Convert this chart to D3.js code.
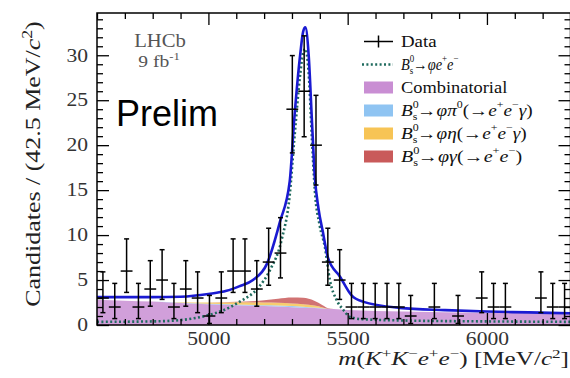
<!DOCTYPE html>
<html>
<head>
<meta charset="utf-8">
<script src="https://cdn.jsdelivr.net/npm/d3@7"></script>
<style>
  body { margin: 0; background: #fff; }
  svg { display: block; font-family: "Liberation Serif", "Times New Roman", serif; }
</style>
</head>
<body>
<div id="chart"></div>
<script>
// binning of the mass histogram
const massMin = 4600, massMax = 6300, binWidth = 42.5;

// candidates per bin (0 = empty bin, not drawn)
const counts = [3, 2, 6, 2, 4, 5, 2, 4, 3, 1, 3, 6, 6, 4, 7, 8, 24, 26, 20, 7,
                5, 2, 2, 2, 2, 2, 1, 0, 2, 0, 1, 0, 3, 2, 2, 0, 0, 3, 2, 2];

// total fit (solid blue)
const fitMass  = [4600, 4700, 4800, 4900, 5000, 5065, 5110, 5160, 5210, 5257, 5292, 5308, 5330, 5340, 5348,
                  5360, 5372, 5382, 5395, 5410, 5430, 5472, 5514, 5554, 5687, 5850, 6000, 6150, 6300];
const fitTotal = [3.1, 3.1, 3.1, 3.15, 3.45, 3.8, 4.3, 5.0, 6.8, 11.5, 16, 22.8, 30.2, 32.6, 33.1,
                  30, 22.5, 16.5, 13, 10.5, 7.4, 5.4, 3.3, 2.6, 1.9, 1.65, 1.5, 1.4, 1.3];

// signal component (dotted)
const sigMass  = [4600, 4800, 4900, 5000, 5050, 5113, 5178, 5221, 5263, 5292, 5308, 5330, 5340, 5348,
                  5360, 5372, 5382, 5400, 5418, 5436, 5460, 5484, 5508, 5550, 5700, 6000, 6300];
const sigYield = [0.35, 0.4, 0.55, 1.1, 1.6, 2.6, 4.1, 6.1, 9.5, 14.5, 20.5, 28, 30.3, 30.7,
                  28, 20.5, 15, 11, 8.7, 5, 2.8, 1.7, 0.9, 0.65, 0.5, 0.4, 0.35];

// stacked background components
const bkgMass       = [4600, 4700, 4800, 4900, 5000, 5100, 5200, 5250, 5300, 5340, 5380, 5410, 5430, 5450, 5500, 5600, 5800, 6000, 6300];
const combinatorial = [2.8, 2.7, 2.6, 2.45, 2.3, 2.2, 2.1, 2.05, 1.98, 1.93, 1.88, 1.84, 1.8, 1.77, 1.68, 1.56, 1.45, 1.37, 1.28];
const phiPi0        = [0, 0, 0, 0.02, 0.05, 0.08, 0.1, 0.12, 0.12, 0.1, 0.06, 0.02, 0, 0, 0, 0, 0, 0, 0];
const phiEta        = [0, 0, 0, 0.05, 0.15, 0.25, 0.3, 0.3, 0.3, 0.28, 0.22, 0.1, 0.02, 0, 0, 0, 0, 0, 0];
const phiGamma      = [0, 0, 0, 0, 0, 0.05, 0.25, 0.45, 0.65, 0.72, 0.55, 0.25, 0.05, 0, 0, 0, 0, 0, 0];

const xTicks = [5000, 5500, 6000];
const yTicks = [0, 5, 10, 15, 20, 25, 30];

const colors = {
  comb: "#c98ed3",
  pi0: "#8fc4f2",
  eta: "#f7c455",
  gamma: "#c95a5a",
  fit: "#1a1ad2",
  signal: "#1f6b5e"
};

const width = 570, height = 378;
const frame = { left: 97, right: 570.5, top: 13, bottom: 325 };
const stretch = 1.2; // the figure text is wider than plain Times

const svg = d3.select("#chart").append("svg")
  .attr("width", width)
  .attr("height", height);

const x = d3.scaleLinear().domain([massMin, massMax]).range([frame.left, frame.right]);
const y = d3.scaleLinear().domain([0, 34.7]).range([frame.bottom, frame.top]);

svg.append("clipPath").attr("id", "clip")
  .append("rect")
  .attr("x", frame.left).attr("y", frame.top)
  .attr("width", frame.right - frame.left).attr("height", frame.bottom - frame.top);

const plot = svg.append("g").attr("clip-path", "url(#clip)");

// **************** stacked backgrounds ****************
const bkgRows = bkgMass.map((m, i) => ({
  mass: m, comb: combinatorial[i], pi0: phiPi0[i], eta: phiEta[i], gamma: phiGamma[i]
}));
const stack = d3.stack().keys(["comb", "pi0", "eta", "gamma"]);
const area = d3.area()
  .x(d => x(d.data.mass))
  .y0(d => y(d[0]))
  .y1(d => y(d[1]))
  .curve(d3.curveMonotoneX);

plot.selectAll("path.bkg")
  .data(stack(bkgRows))
  .enter().append("path")
  .attr("class", "bkg")
  .attr("d", area)
  .attr("fill", d => colors[d.key])
  .attr("fill-opacity", 0.85);

// **************** fit curves ****************
const line = d3.line()
  .x(d => x(d[0]))
  .y(d => y(d[1]))
  .curve(d3.curveMonotoneX);

plot.append("path")
  .attr("d", line(sigMass.map((m, i) => [m, sigYield[i]])))
  .attr("fill", "none")
  .attr("stroke", colors.signal)
  .attr("stroke-width", 2.6)
  .attr("stroke-dasharray", "2 2.4");

plot.append("path")
  .attr("d", line(fitMass.map((m, i) => [m, fitTotal[i]])))
  .attr("fill", "none")
  .attr("stroke", colors.fit)
  .attr("stroke-width", 2.6);

// **************** data points ****************
// Poisson 68% interval (Wilson-Hilferty approximation of the Garwood interval)
function poissonInterval(n) {
  const lo = n === 0 ? 0 : n * Math.pow(1 - 1 / (9 * n) - 1 / (3 * Math.sqrt(n)), 3);
  const m = n + 1;
  const hi = m * Math.pow(1 - 1 / (9 * m) + 1 / (3 * Math.sqrt(m)), 3);
  return [lo, hi];
}

const points = counts
  .map((c, i) => ({ c: c, lo: massMin + i * binWidth, mid: massMin + (i + 0.5) * binWidth }))
  .filter(d => d.c > 0);

const pts = plot.selectAll("g.pt").data(points).enter().append("g")
  .attr("class", "pt")
  .attr("stroke", "#000")
  .attr("stroke-width", 1.5);

pts.append("line")
  .attr("x1", d => x(d.lo)).attr("x2", d => x(d.lo + binWidth))
  .attr("y1", d => y(d.c)).attr("y2", d => y(d.c));
pts.append("line")
  .attr("x1", d => x(d.mid)).attr("x2", d => x(d.mid))
  .attr("y1", d => y(poissonInterval(d.c)[0]))
  .attr("y2", d => y(poissonInterval(d.c)[1]));
pts.append("line")
  .attr("x1", d => x(d.mid) - 2.5).attr("x2", d => x(d.mid) + 2.5)
  .attr("y1", d => y(poissonInterval(d.c)[0])).attr("y2", d => y(poissonInterval(d.c)[0]));
pts.append("line")
  .attr("x1", d => x(d.mid) - 2.5).attr("x2", d => x(d.mid) + 2.5)
  .attr("y1", d => y(poissonInterval(d.c)[1])).attr("y2", d => y(poissonInterval(d.c)[1]));

// **************** axes ****************
const xMinor = d3.range(massMin, massMax + 1, 100).filter(v => xTicks.indexOf(v) < 0);
const yMinor = d3.range(0, 35).filter(v => v % 5 !== 0);

function styleAxis(g) {
  g.select(".domain").remove();
  g.selectAll(".tick line").attr("stroke", "#000").attr("stroke-width", 1.3);
  g.selectAll(".tick text")
    .attr("fill", "#333")
    .style("font-family", "'Liberation Serif', serif")
    .style("font-size", "18px")
    .attr("x", function () { return +d3.select(this).attr("x") / stretch || 0; })
    .attr("transform", "scale(" + stretch + ",1)");
}

const axes = [
  [d3.axisBottom, "translate(0," + frame.bottom + ")", x, xTicks, xMinor, true, 7],
  [d3.axisTop, "translate(0," + frame.top + ")", x, xTicks, xMinor, false, 9],
  [d3.axisLeft, "translate(" + frame.left + ",0)", y, yTicks, yMinor, true, 9],
  [d3.axisRight, "translate(" + frame.right + ",0)", y, yTicks, yMinor, false, 9]
];

axes.forEach(([axisFn, tr, scale, major, minor, labels, pad]) => {
  svg.append("g").attr("transform", tr)
    .call(axisFn(scale).tickValues(major).tickSize(-12).tickPadding(pad)
      .tickFormat(labels ? d3.format("d") : ""))
    .call(styleAxis);
  svg.append("g").attr("transform", tr)
    .call(axisFn(scale).tickValues(minor).tickSize(-6).tickFormat(""))
    .call(styleAxis);
});

svg.append("rect")
  .attr("x", frame.left).attr("y", frame.top)
  .attr("width", frame.right - frame.left).attr("height", frame.bottom - frame.top)
  .attr("fill", "none").attr("stroke", "#000").attr("stroke-width", 1.5);

// **************** labels ****************
// appends a sequence of text runs, s = "sup" | "sub", stack = do not advance
function richText(parent, x0, y0, runs, size, sx, fill) {
  const g = parent.append("g").attr("transform", "translate(" + x0 + "," + y0 + ") scale(" + (sx || 1) + ",1)");
  let cx = 0;
  runs.forEach(r => {
    const fs = r.s ? size * 0.62 : size;
    const dy = r.s === "sup" ? -size * 0.45 : r.s === "sub" ? size * 0.3 : 0;
    const t = g.append("text")
      .attr("x", cx).attr("y", dy)
      .attr("fill", fill || "#111")
      .style("font-size", fs + "px")
      .style("font-style", r.i ? "italic" : "normal")
      .text(r.t);
    const w = t.node().getComputedTextLength();
    if (!r.stack) cx += w;
  });
  return g;
}

// y axis title
const yTitle = svg.append("text")
  .attr("transform", "translate(40,164) rotate(-90) scale(1.18,1)")
  .attr("text-anchor", "middle")
  .attr("fill", "#222")
  .style("font-size", "22px");
yTitle.append("tspan").text("Candidates / (42.5 MeV/");
yTitle.append("tspan").style("font-style", "italic").text("c");
yTitle.append("tspan").attr("dy", -8).style("font-size", "15px").text("2");
yTitle.append("tspan").attr("dy", 8).text(")");

// x axis title
const xTitle = svg.append("text")
  .attr("transform", "translate(569,365) scale(1.36,1)")
  .attr("text-anchor", "end")
  .attr("fill", "#222")
  .style("font-size", "18.5px");
[["m", 1, 0], ["(", 0, 0], ["K", 1, 0], ["+", 0, 1], ["K", 1, 0], ["\u2212", 0, 1], ["e", 1, 0],
 ["+", 0, 1], ["e", 1, 0], ["\u2212", 0, 1], [") [MeV/", 0, 0], ["c", 1, 0], ["2", 0, 1], ["]", 0, 0]]
  .forEach(([t, it, sup], i, arr) => {
    const prevSup = i > 0 && arr[i - 1][2];
    const ts = xTitle.append("tspan").text(t).style("font-style", it ? "italic" : "normal");
    if (sup) ts.attr("dy", prevSup ? 0 : -7).style("font-size", "12.5px");
    else if (prevSup) ts.attr("dy", 7);
  });

// LHCb label
svg.append("text").attr("transform", "translate(160,47) scale(1.15,1)").attr("text-anchor", "middle")
  .attr("fill", "#555").style("font-size", "18px").text("LHCb");
const lumi = svg.append("text").attr("transform", "translate(159,67) scale(1.15,1)").attr("text-anchor", "middle")
  .attr("fill", "#555").style("font-size", "17px");
lumi.append("tspan").text("9 fb");
lumi.append("tspan").attr("dy", -7).style("font-size", "11px").text("-1");

svg.append("text").attr("x", 116).attr("y", 126)
  .style("font-family", "'Liberation Sans', Arial, sans-serif")
  .style("font-size", "36px").attr("fill", "#000").text("Prelim");

// **************** legend ****************
const legend = svg.append("g");
const legX = 364, legW = 29, legTextX = 401, rowY0 = 41.5, rowH = 23, legSize = 16;
const bs = [{ t: "B", i: 1 }, { t: "0", s: "sup", stack: 1 }, { t: "s", s: "sub" }, { t: "\u2192 " }];

// Data
legend.append("line").attr("x1", legX).attr("x2", legX + legW).attr("y1", rowY0).attr("y2", rowY0)
  .attr("stroke", "#000").attr("stroke-width", 1.5);
legend.append("line").attr("x1", legX + legW / 2).attr("x2", legX + legW / 2)
  .attr("y1", rowY0 - 6).attr("y2", rowY0 + 6).attr("stroke", "#000").attr("stroke-width", 1.5);
richText(legend, legTextX, rowY0 + 5, [{ t: "Data" }], legSize, 1.18);

// signal
legend.append("line").attr("x1", legX - 2).attr("x2", legX + legW).attr("y1", rowY0 + rowH).attr("y2", rowY0 + rowH)
  .attr("stroke", colors.signal).attr("stroke-width", 2.6).attr("stroke-dasharray", "2 2.4");
richText(legend, legTextX, rowY0 + rowH + 5,
  bs.concat([{ t: "\u03c6e", i: 1 }, { t: "+", s: "sup" }, { t: "e", i: 1 }, { t: "\u2212", s: "sup" }]), legSize, 0.9);

const boxes = [
  ["comb", 1.15, [{ t: "Combinatorial" }]],
  ["pi0", 1.2, bs.concat([{ t: "\u03c6\u03c0", i: 1 }, { t: "0", s: "sup" }, { t: "(\u2192 " }, { t: "e", i: 1 }, { t: "+", s: "sup" },
    { t: "e", i: 1 }, { t: "\u2212", s: "sup" }, { t: "\u03b3", i: 1 }, { t: ")" }])],
  ["eta", 1.2, bs.concat([{ t: "\u03c6\u03b7", i: 1 }, { t: "(\u2192 " }, { t: "e", i: 1 }, { t: "+", s: "sup" },
    { t: "e", i: 1 }, { t: "\u2212", s: "sup" }, { t: "\u03b3", i: 1 }, { t: ")" }])],
  ["gamma", 1.25, bs.concat([{ t: "\u03c6\u03b3", i: 1 }, { t: "(\u2192 " }, { t: "e", i: 1 }, { t: "+", s: "sup" },
    { t: "e", i: 1 }, { t: "\u2212", s: "sup" }, { t: ")" }])]
];
boxes.forEach(([key, sx, runs], i) => {
  const cy = rowY0 + (i + 2) * rowH;
  legend.append("rect").attr("x", legX).attr("y", cy - 6).attr("width", legW).attr("height", 12)
    .attr("fill", colors[key]);
  richText(legend, legTextX, cy + 5, runs, legSize, sx);
});
</script>
</body>
</html>
